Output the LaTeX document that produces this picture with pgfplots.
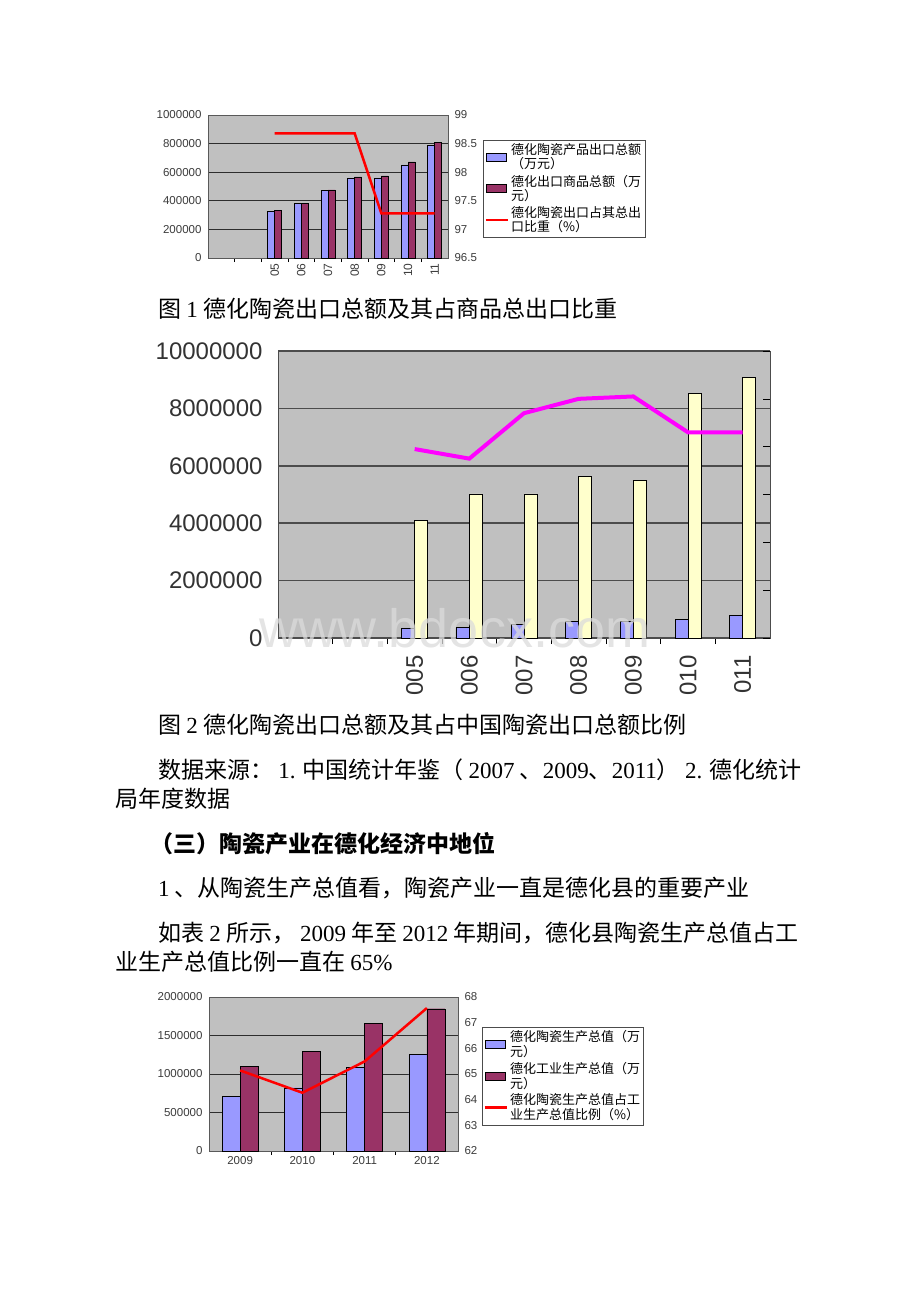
\documentclass[border=0pt]{standalone}
\usepackage{fontspec}
\setmainfont{Liberation Sans}
\newfontfamily\cjk{Noto Sans CJK SC}
\newfontfamily\tm{Liberation Serif}
\usepackage{pgfplots}
\pgfplotsset{compat=1.18}
\definecolor{plotgray}{RGB}{192,192,192}
\definecolor{barblue}{RGB}{153,153,255}
\definecolor{barmaroon}{RGB}{153,51,102}
\definecolor{baryellow}{RGB}{255,255,204}
\definecolor{gridc}{RGB}{45,45,45}
\definecolor{labc}{RGB}{60,60,60}
\definecolor{pinkline}{RGB}{255,0,255}
\definecolor{redline}{RGB}{255,0,0}
\pgfplotsset{
  base/.style={
    scale only axis, anchor=south west,
    /pgf/number format/fixed,
    /pgf/number format/set thousands separator={},
    /pgf/number format/assume math mode=true,
    scaled y ticks=false,
    tick align=inside,
    tick style={draw=black, line width=0.6pt},
    axis line style={draw=black!65, line width=0.7pt},
  },
  barleg/.style={legend image code/.code={\draw[##1,draw=black,line width=0.5pt] (0pt,-4pt) rectangle (20pt,4pt);}},
  lineleg/.style={legend image code/.code={\draw[##1] (0pt,0pt) -- (22pt,0pt);}},
}
\begin{document}
\begin{tikzpicture}
\fill[white] (0pt,0pt) rectangle (920pt,-1302pt);
\path[use as bounding box] (0pt,0pt) rectangle (920pt,-1302pt);

% ---------------- Chart 1 ----------------
\begin{axis}[base,
  at={(208pt,-258pt)}, width=240pt, height=143pt,
  xmin=-0.5, xmax=8.5, ymin=0, ymax=1000000,
  ytick={0,200000,...,1000000},
  axis background/.style={fill=plotgray},
  ymajorgrids, grid style={gridc, line width=0.9pt},
  ybar=0pt, bar width=7pt,
  xtick={2,...,8}, xticklabels={05,06,07,08,09,10,11},
  minor xtick={0.5,1.5,...,7.5},
  major tick length=0pt, minor tick length=4pt,
  xtick pos=bottom, ytick pos=left,
  xticklabel style={rotate=90, anchor=east, font=\fontsize{12}{12}\selectfont, text=labc, xshift=-2pt},
  yticklabel style={font=\fontsize{11.5}{12}\selectfont, text=labc, xshift=-3pt},
]
\addplot[fill=barblue, draw=black, line width=0.4pt] coordinates {(2,327000)(3,381000)(4,472000)(5,561000)(6,561000)(7,652000)(8,790000)};
\addplot[fill=barmaroon, draw=black, line width=0.4pt] coordinates {(2,334000)(3,381000)(4,476000)(5,568000)(6,575000)(7,672000)(8,808000)};
\end{axis}
\begin{axis}[base,
  at={(208pt,-258pt)}, width=240pt, height=143pt,
  xmin=-0.5, xmax=8.5, ymin=96.5, ymax=99,
  ytick={96.5,97,...,99},
  axis x line=none, axis y line*=right,
  major tick length=0pt,
  yticklabel style={font=\fontsize{11.5}{12}\selectfont, text=labc, xshift=3pt},
  legend style={at={(1.146,0.825)}, anchor=north west, draw=black!70, fill=white,
    font=\cjk\fontsize{13}{14}\selectfont, cells={align=left}, inner sep=1.5pt, row sep=1pt},
  legend cell align=left,
]
\addlegendimage{barleg, fill=barblue}
\addlegendentry{德化陶瓷产品出口总额\\（万元）}
\addlegendimage{barleg, fill=barmaroon}
\addlegendentry{德化出口商品总额（万\\元）}
\addplot[redline, line width=2.5pt, mark=none, lineleg] coordinates {(2,98.68)(3,98.68)(4,98.68)(5,98.68)(6,97.28)(7,97.28)(8,97.28)};
\addlegendentry{德化陶瓷出口占其总出\\口比重（\%）}
\end{axis}

\node[anchor=west, inner sep=0pt] at (158pt,-309pt) {\fontsize{23}{27}\selectfont\cjk 图 {\tm 1} 德化陶瓷出口总额及其占商品总出口比重};

% ---------------- Chart 2 ----------------
\begin{axis}[base,
  at={(278pt,-638pt)}, width=492pt, height=287pt,
  xmin=-0.5, xmax=8.5, ymin=0, ymax=10000000,
  ytick={0,2000000,...,10000000},
  axis background/.style={fill=plotgray},
  ymajorgrids, grid style={gridc!85, line width=1.6pt},
  ybar=0pt, bar width=13pt,
  xtick={2,...,8}, xticklabels={005,006,007,008,009,010,011},
  minor xtick={0.5,1.5,...,7.5},
  major tick length=0pt, minor tick length=6pt,
  xtick pos=bottom, ytick pos=left,
  axis line style={draw=black!70, line width=1pt},
  xticklabel style={rotate=90, anchor=east, font=\fontsize{24}{24}\selectfont, text=black!80, xshift=-14pt},
  yticklabel style={font=\fontsize{24}{24}\selectfont, text=black!80, xshift=-12pt},
]
\addplot[fill=barblue, draw=black, line width=0.8pt] coordinates {(2,350000)(3,360000)(4,470000)(5,590000)(6,590000)(7,650000)(8,800000)};
\addplot[fill=baryellow, draw=black, line width=0.8pt] coordinates {(2,4110000)(3,5020000)(4,5020000)(5,5620000)(6,5480000)(7,8530000)(8,9080000)};
\end{axis}
\begin{axis}[base,
  at={(278pt,-638pt)}, width=492pt, height=287pt,
  xmin=-0.5, xmax=8.5, ymin=0, ymax=12,
  ytick={0,2,...,12}, yticklabels={},
  axis x line=none, axis y line*=right,
  axis line style={draw=black!70, line width=1pt},
  major tick length=7pt,
]
\addplot[pinkline, line width=4pt, mark=none] coordinates {(2,7.9)(3,7.5)(4,9.4)(5,10.0)(6,10.1)(7,8.6)(8,8.6)};
\end{axis}
\node[text=black!14, opacity=0.75, inner sep=0pt] at (455pt,-628pt) {\fontsize{54}{54}\selectfont www.bdocx.com};

\node[anchor=west, inner sep=0pt] at (158pt,-725pt) {\fontsize{23}{27}\selectfont\cjk 图 {\tm 2} 德化陶瓷出口总额及其占中国陶瓷出口总额比例};
\node[anchor=west, inner sep=0pt] at (158pt,-770pt) {\fontsize{23}{27}\selectfont\cjk 数据来源： {\tm 1.} 中国统计年鉴（ {\tm 2007} 、{\tm 2009}、{\tm 2011}） {\tm 2.} 德化统计};
\node[anchor=west, inner sep=0pt] at (115pt,-799pt) {\fontsize{23}{27}\selectfont\cjk 局年度数据};
\node[anchor=west, inner sep=0pt] at (150pt,-844pt) {\fontsize{23}{27}\selectfont\cjk\bfseries （三）陶瓷产业在德化经济中地位};
\node[anchor=west, inner sep=0pt] at (158pt,-888pt) {\fontsize{23}{27}\selectfont\cjk {\tm 1} 、从陶瓷生产总值看，陶瓷产业一直是德化县的重要产业};
\node[anchor=west, inner sep=0pt] at (158pt,-933pt) {\fontsize{23}{27}\selectfont\cjk 如表 {\tm 2} 所示， {\tm 2009} 年至 {\tm 2012} 年期间，德化县陶瓷生产总值占工};
\node[anchor=west, inner sep=0pt] at (115pt,-962pt) {\fontsize{23}{27}\selectfont\cjk 业生产总值比例一直在 {\tm 65\%}};

% ---------------- Chart 3 ----------------
\begin{axis}[base,
  at={(209pt,-1151pt)}, width=249pt, height=154pt,
  xmin=-0.5, xmax=3.5, ymin=0, ymax=2000000,
  ytick={0,500000,...,2000000},
  axis background/.style={fill=plotgray},
  ymajorgrids, grid style={gridc, line width=0.9pt},
  ybar=0pt, bar width=18pt,
  xtick={0,...,3}, xticklabels={2009,2010,2011,2012},
  minor xtick={0.5,1.5,2.5},
  major tick length=0pt, minor tick length=4pt,
  xtick pos=bottom, ytick pos=left,
  xticklabel style={font=\fontsize{11.5}{12}\selectfont, text=labc, yshift=-2pt},
  yticklabel style={font=\fontsize{11.5}{12}\selectfont, text=labc, xshift=-3pt},
]
\addplot[fill=barblue, draw=black, line width=0.4pt] coordinates {(0,710000)(1,822000)(2,1091000)(3,1251000)};
\addplot[fill=barmaroon, draw=black, line width=0.4pt] coordinates {(0,1104000)(1,1294000)(2,1662000)(3,1848000)};
\end{axis}
\begin{axis}[base,
  at={(209pt,-1151pt)}, width=249pt, height=154pt,
  xmin=-0.5, xmax=3.5, ymin=62, ymax=68,
  ytick={62,...,68},
  axis x line=none, axis y line*=right,
  major tick length=0pt,
  yticklabel style={font=\fontsize{11.5}{12}\selectfont, text=labc, xshift=3pt},
  legend style={at={(1.096,0.805)}, anchor=north west, draw=black!70, fill=white,
    font=\cjk\fontsize{13}{15}\selectfont, cells={align=left}, inner sep=1.5pt, row sep=0pt},
  legend cell align=left,
]
\addlegendimage{barleg, fill=barblue}
\addlegendentry{德化陶瓷生产总值（万\\元）}
\addlegendimage{barleg, fill=barmaroon}
\addlegendentry{德化工业生产总值（万\\元）}
\addplot[redline, line width=2.5pt, mark=none, lineleg] coordinates {(0,65.14)(1,64.27)(2,65.49)(3,67.57)};
\addlegendentry{德化陶瓷生产总值占工\\业生产总值比例（\%）}
\end{axis}
\end{tikzpicture}
\end{document}
